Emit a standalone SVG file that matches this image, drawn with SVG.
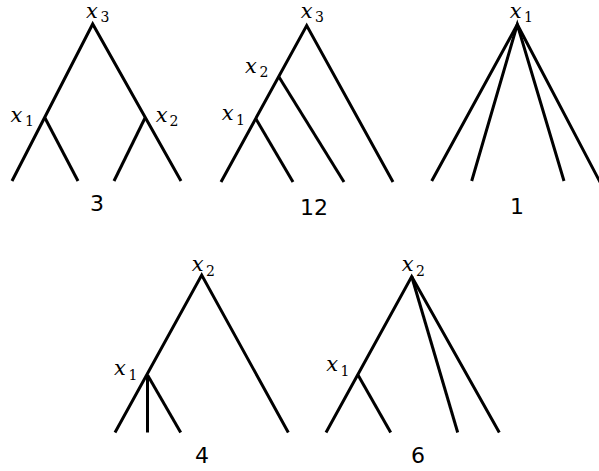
<svg xmlns="http://www.w3.org/2000/svg" width="599" height="471" viewBox="0 0 599 471">
<style>
.e{fill:none;stroke:#000;stroke-width:3;stroke-linejoin:miter;stroke-linecap:butt}
.v{font-family:"DejaVu Serif","Liberation Serif",serif;font-style:italic;font-size:21px;fill:#000}
.s{font-family:"DejaVu Serif","Liberation Serif",serif;font-style:normal;font-size:14px}
.n{font-family:"DejaVu Sans",sans-serif;font-size:22px;text-anchor:middle;fill:#000}
</style>
<rect width="599" height="471" fill="#fff"/>
<g id="connectors">
<polyline class="e" points="12,181 92.7,24 181,181"/>
<polyline class="e" points="45,118 78,181"/>
<polyline class="e" points="145,118 114,181"/>
<polyline class="e" points="221,182 306.7,25.5 393,182"/>
<polyline class="e" points="279,77 344,182"/>
<polyline class="e" points="255.7,118.5 293,182"/>
<polyline class="e" points="431.7,181 517.3,24.5 600.5,183"/>
<polyline class="e" points="471.7,181 517.3,24.5 564,181"/>
<polyline class="e" points="115,432.5 201.7,275 288.3,432.5"/>
<polyline class="e" points="147.5,375 147.5,432.5"/>
<polyline class="e" points="147.5,375 180.7,432.5"/>
<polyline class="e" points="326,432.5 411.7,276.5 499.3,432.5"/>
<polyline class="e" points="457.7,432.5 411.7,276.5"/>
<polyline class="e" points="358,375 390.7,432.5"/>
</g>
<g id="tree1">
<text class="v" x="86" y="17.5">x<tspan class="s" x="100.5" y="21.5">3</tspan></text>
<text class="v" x="10.5" y="121.5">x<tspan class="s" x="25" y="126">1</tspan></text>
<text class="v" x="155.7" y="121.5">x<tspan class="s" x="169.5" y="126">2</tspan></text>
<text class="n" x="97" y="211">3</text>
</g>
<g id="tree2">
<text class="v" x="300.7" y="17.5">x<tspan class="s" x="315" y="21.5">3</tspan></text>
<text class="v" x="245" y="72.5">x<tspan class="s" x="259.5" y="77">2</tspan></text>
<text class="v" x="221.7" y="120">x<tspan class="s" x="236" y="124.5">1</tspan></text>
<text class="n" x="314" y="215">12</text>
</g>
<g id="tree3">
<text class="v" x="509.7" y="17.5">x<tspan class="s" x="524" y="21.5">1</tspan></text>
<text class="n" x="517" y="214">1</text>
</g>
<g id="tree4">
<text class="v" x="191.7" y="271">x<tspan class="s" x="206" y="275.5">2</tspan></text>
<text class="v" x="114" y="375">x<tspan class="s" x="128.5" y="379.5">1</tspan></text>
<text class="n" x="202" y="463">4</text>
</g>
<g id="tree5">
<text class="v" x="401.7" y="271">x<tspan class="s" x="416" y="275.5">2</tspan></text>
<text class="v" x="326.3" y="371">x<tspan class="s" x="340.5" y="375.5">1</tspan></text>
<text class="n" x="418" y="463">6</text>
</g>
</svg>
